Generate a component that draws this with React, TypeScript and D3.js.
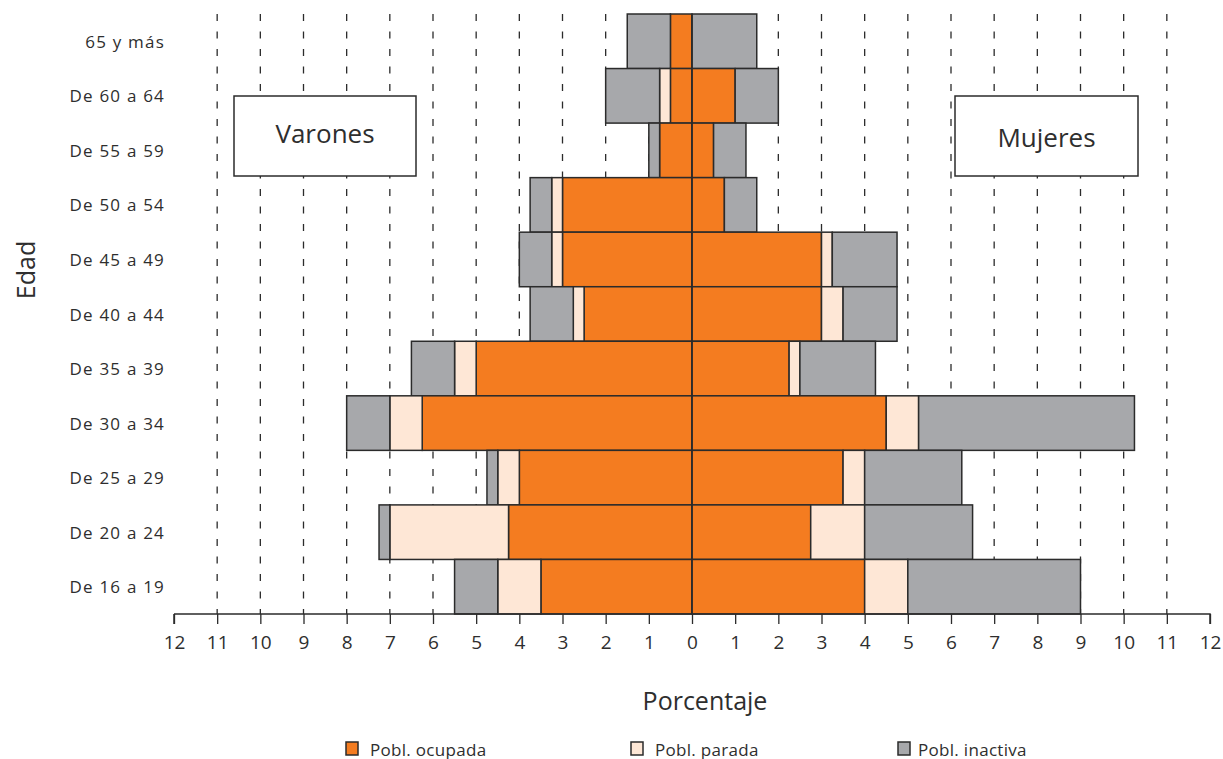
import React, { useEffect, useRef } from "react";
import * as d3 from "d3";

const categories = ["65 y más", "De 60 a 64", "De 55 a 59", "De 50 a 54", "De 45 a 49", "De 40 a 44", "De 35 a 39", "De 30 a 34", "De 25 a 29", "De 20 a 24", "De 16 a 19"];
const menOcupada = [0.5, 0.5, 0.75, 3.0, 3.0, 2.5, 5.0, 6.25, 4.0, 4.25, 3.5];
const menParada = [0, 0.25, 0, 0.25, 0.25, 0.25, 0.5, 0.75, 0.5, 2.75, 1.0];
const menInactiva = [1.0, 1.25, 0.25, 0.5, 0.75, 1.0, 1.0, 1.0, 0.25, 0.25, 1.0];
const womenOcupada = [0, 1.0, 0.5, 0.75, 3.0, 3.0, 2.25, 4.5, 3.5, 2.75, 4.0];
const womenParada = [0, 0, 0, 0, 0.25, 0.5, 0.25, 0.75, 0.5, 1.25, 1.0];
const womenInactiva = [1.5, 1.0, 0.75, 0.75, 1.5, 1.25, 1.75, 5.0, 2.25, 2.5, 4.0];
const xTicks = d3.range(-12, 13);
const seriesNames = ["Pobl. ocupada", "Pobl. parada", "Pobl. inactiva"];
const seriesColors = ["#F47C20", "#FEE7D6", "#A7A8AB"];

export default function App() {
  const ref = useRef<SVGSVGElement>(null);
  useEffect(() => {
    const svg = d3.select(ref.current);
    svg.selectAll("*").remove();
    const x = d3.scaleLinear().domain([-12, 12]).range([174, 1210]);
    const y = d3.scaleBand().domain(categories).range([14, 614]).padding(0);
    const stroke = "#2b2b2b";
    const font = "'Open Sans', sans-serif";
    const textColor = "#2e2e2e";

    // gridlines
    svg.append("g").selectAll("line")
      .data(xTicks.filter(t => t !== 0 && Math.abs(t) !== 12))
      .join("line")
      .attr("x1", d => x(d)).attr("x2", d => x(d))
      .attr("y1", 14).attr("y2", 614)
      .attr("stroke", stroke).attr("stroke-width", 1.3)
      .attr("stroke-dasharray", "7,10.5");

    // bars
    const men = [menOcupada, menParada, menInactiva];
    const women = [womenOcupada, womenParada, womenInactiva];
    const bars: { cat: string; x0: number; x1: number; s: number }[] = [];
    categories.forEach((c, i) => {
      let acc = 0;
      men.forEach((arr, s) => {
        if (arr[i] > 0) bars.push({ cat: c, x0: -acc - arr[i], x1: -acc, s });
        acc += arr[i];
      });
      acc = 0;
      women.forEach((arr, s) => {
        if (arr[i] > 0) bars.push({ cat: c, x0: acc, x1: acc + arr[i], s });
        acc += arr[i];
      });
    });
    svg.append("g").selectAll("rect").data(bars).join("rect")
      .attr("x", d => x(d.x0)).attr("width", d => x(d.x1) - x(d.x0))
      .attr("y", d => y(d.cat)!).attr("height", y.bandwidth())
      .attr("fill", d => seriesColors[d.s])
      .attr("stroke", stroke).attr("stroke-width", 1.5);

    // center line
    svg.append("line").attr("x1", x(0)).attr("x2", x(0)).attr("y1", 14).attr("y2", 614)
      .attr("stroke", stroke).attr("stroke-width", 1.5);

    // x axis
    const axis = d3.axisBottom(x).tickValues(xTicks).tickSize(10).tickPadding(12)
      .tickFormat(d => String(Math.abs(+d)));
    const ag = svg.append("g").attr("transform", "translate(0,614)").call(axis);
    ag.select(".domain").attr("stroke", stroke).attr("stroke-width", 1.5).attr("d", `M${x(-12)},0V10M${x(-12)},0H${x(12)}V10`);
    ag.selectAll(".tick line").attr("stroke", stroke).attr("stroke-width", 1.3);
    ag.selectAll(".tick text").attr("font-family", font).attr("font-size", 19)
      .attr("fill", textColor);

    // y labels
    svg.append("g").selectAll("text").data(categories).join("text")
      .attr("x", 165).attr("y", d => y(d)! + y.bandwidth() / 2)
      .attr("text-anchor", "end").attr("dominant-baseline", "central")
      .attr("font-family", font).attr("font-size", 17).attr("fill", textColor)
      .attr("letter-spacing", 1.2)
      .text(d => d);

    // axis titles
    svg.append("text").attr("transform", "translate(25,270) rotate(-90)")
      .attr("text-anchor", "middle").attr("dominant-baseline", "central")
      .attr("font-family", font).attr("font-size", 25).attr("fill", textColor).text("Edad");
    svg.append("text").attr("x", 705).attr("y", 700)
      .attr("text-anchor", "middle").attr("dominant-baseline", "central")
      .attr("font-family", font).attr("font-size", 25).attr("fill", textColor).text("Porcentaje");

    // boxes
    const boxes = [{ label: "Varones", x0: 234, x1: 416, ty: 133 }, { label: "Mujeres", x0: 955, x1: 1138, ty: 137 }];
    boxes.forEach(b => {
      svg.append("rect").attr("x", b.x0).attr("y", 96).attr("width", b.x1 - b.x0).attr("height", 80)
        .attr("fill", "#fff").attr("stroke", stroke).attr("stroke-width", 1.5);
      svg.append("text").attr("x", (b.x0 + b.x1) / 2).attr("y", b.ty)
        .attr("text-anchor", "middle").attr("dominant-baseline", "central")
        .attr("font-family", font).attr("font-size", 26).attr("fill", textColor).text(b.label);
    });

    // legend
    const lx = [346, 631, 898];
    const lt = [370, 655, 918];
    seriesNames.forEach((n, i) => {
      svg.append("rect").attr("x", lx[i]).attr("y", 742).attr("width", 12).attr("height", 13)
        .attr("fill", seriesColors[i]).attr("stroke", stroke).attr("stroke-width", 1.5);
      svg.append("text").attr("x", lt[i]).attr("y", 749).attr("dominant-baseline", "central")
        .attr("font-family", font).attr("font-size", 17).attr("fill", textColor)
        .attr("letter-spacing", 0.3).text(n);
    });
  }, []);
  return (
    <svg ref={ref} width={1223} height={759}
      style={{ position: "absolute", left: 0, top: 0, background: "#fff" }} />
  );
}
